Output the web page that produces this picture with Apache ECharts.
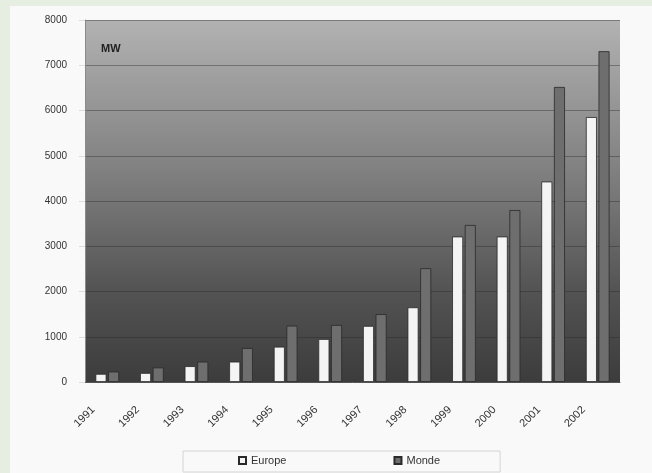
<!DOCTYPE html>
<html>
<head>
<meta charset="utf-8">
<script src="https://cdn.jsdelivr.net/npm/echarts@6/dist/echarts.min.js"></script>
<style>
	html, body { margin: 0; padding: 0; background: #e6eee2; }
	#panel { position: absolute; left: 10px; top: 6px; width: 642px; height: 467px; background: #f9f9f9; }
	#chart { position: absolute; left: 0; top: 0; width: 652px; height: 473px; }
</style>
</head>
<body>
<div id="panel"></div>
<div id="chart"></div>
<script>
const years = [ '1991', '1992', '1993', '1994', '1995', '1996', '1997', '1998', '1999', '2000', '2001', '2002' ];
const europe = [ 180, 200, 350, 450, 780, 950, 1240, 1650, 3215, 3215, 4430, 5855 ];
const monde = [ 230, 320, 450, 750, 1245, 1260, 1500, 2515, 3470, 3800, 6520, 7310 ];

const chart = echarts.init( document.getElementById( 'chart' ), null, { renderer: 'canvas' } );

const barStyle = ( fill ) => ( {
	color: fill,
	borderColor: '#2a2a2a',
	borderWidth: 0.8
} );

chart.setOption( {
	animation: false,
	backgroundColor: 'transparent',
	textStyle: { fontFamily: 'Liberation Sans, Arial, sans-serif' },
	title: {
		text: 'MW',
		left: 96,
		top: 38,
		textStyle: { fontSize: 11, fontWeight: 'bold', color: '#222' }
	},
	grid: {
		left: 85,
		right: 32,
		top: 20,
		bottom: 91,
		show: true,
		borderWidth: 0,
		backgroundColor: new echarts.graphic.LinearGradient( 0, 0, 0, 1, [
			{ offset: 0, color: '#b2b2b2' },
			{ offset: 0.45, color: '#7c7c7c' },
			{ offset: 0.75, color: '#535353' },
			{ offset: 1, color: '#3c3c3c' }
		] )
	},
	legend: {
		data: [ 'Europe', 'Monde' ],
		left: 183,
		top: 451,
		width: 322,
		icon: 'rect',
		itemWidth: 7,
		itemHeight: 7,
		itemGap: 107,
		padding: [ 4, 60, 6, 55 ],
		borderColor: '#d4d4d4',
		borderWidth: 1,
		borderRadius: 0,
		textStyle: { fontSize: 11, color: '#333' }
	},
	xAxis: {
		type: 'category',
		data: years,
		axisLine: { lineStyle: { color: '#555' } },
		axisTick: { show: false },
		axisLabel: {
			rotate: 45,
			fontSize: 11,
			color: '#333',
			margin: 12,
			padding: [ 0, 20, 0, 0 ]
		}
	},
	yAxis: {
		type: 'value',
		min: 0,
		max: 8000,
		interval: 1000,
		axisLine: { show: true, lineStyle: { color: '#8a8a8a' } },
		axisTick: { show: true, length: 6, lineStyle: { color: '#ddd' } },
		axisLabel: { fontSize: 10, color: '#333', margin: 18, formatter: ( v ) => String( v ) },
		splitLine: { lineStyle: { color: 'rgba(40,40,40,0.4)', width: 1 } }
	},
	series: [
		{
			name: 'Europe',
			type: 'bar',
			data: europe,
			barWidth: 11,
			barGap: '15%',
			itemStyle: barStyle( '#f4f4f4' )
		},
		{
			name: 'Monde',
			type: 'bar',
			data: monde,
			barWidth: 11,
			itemStyle: barStyle( '#6e6e6e' )
		}
	]
} );
</script>
</body>
</html>
